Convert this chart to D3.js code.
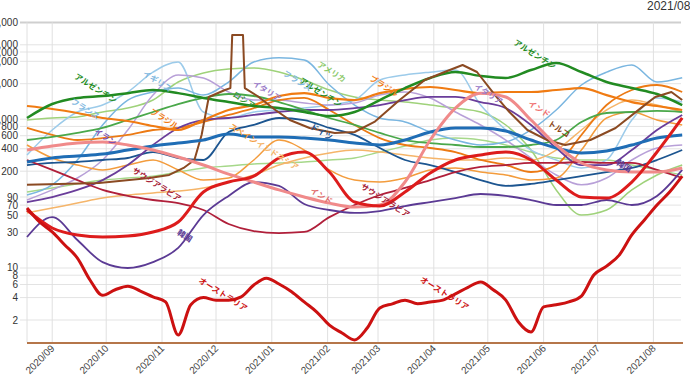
<!DOCTYPE html>
<html lang="ja">
<head>
<meta charset="utf-8">
<title>新規感染者数の推移</title>
<script src="https://cdn.jsdelivr.net/npm/d3@7"></script>
<style>
  body { margin: 0; background: #fff; }
  text { font-family: "Liberation Sans", Arial, sans-serif; }
  .lbl { font-family: "Noto Sans CJK JP", sans-serif; font-weight: bold; font-size: 8px; }
</style>
</head>
<body>
<div id="chart"></div>
<script>
var W = 690, H = 388;

// shared date grids (categories)
var start = new Date(2020, 7, 18), end = new Date(2021, 7, 17);
var dates14 = d3.timeDay.range(start, new Date(2021, 7, 18), 14);   // 27 points
var dates7 = d3.timeDay.range(start, new Date(2021, 7, 18), 7);     // 53 points

var yTicks = [2, 4, 6, 8, 10, 30, 50, 70, 90, 200, 400, 600, 800, 1000, 3000, 6000, 8000, 10000, 20000];

// series values
var australia = [64, 41.5, 30.5, 20.4, 13.6, 6.9, 4.3, 5.1, 5.7, 4.9, 4.1, 3.5, 1.26, 3.2, 4.0, 3.7, 3.7, 4.1, 5.9, 7.3, 6.1, 4.8, 3.5, 2.56, 1.71, 1.34, 1.08, 1.56, 2.9, 3.3, 3.7, 3.3, 3.5, 3.7, 4.5, 5.5, 6.5, 5.1, 3.7, 1.88, 1.38, 3.0, 3.2, 3.5, 4.2, 8.1, 10.6, 14.9, 27.8, 44.2, 70.3, 105, 172];
var japan = [60.2, 34.5, 27.8, 26.1, 26.9, 30.5, 41.5, 105, 143, 172, 301, 362, 195, 77, 68, 105, 189, 283, 330, 362, 283, 152, 90, 87, 143, 362, 1038];
var korea = [26.1, 48.3, 23.8, 12.0, 10, 12.0, 18.6, 51.5, 93, 143, 127, 72.4, 60.2, 54.9, 58.3, 68, 77, 87, 98.8, 93, 82, 70.3, 70.3, 82, 70.3, 93, 208];
var saudi = [283, 208, 152, 112, 93, 82, 74.5, 60.2, 39, 31.4, 29.5, 30.5, 48.3, 70.3, 95.7, 119, 152, 195, 228, 242, 258, 258, 266, 258, 258, 208, 162];
var india = [385, 436, 478, 493, 450, 385, 310, 242, 183, 143, 112, 90, 74.5, 66, 70.3, 143, 525, 1410, 2240, 1990, 975, 450, 258, 208, 195, 195, 221];
var spain = [266, 301, 320, 340, 385, 436, 478, 525, 632, 577, 577, 558, 525, 478, 450, 525, 673, 762, 762, 694, 525, 410, 351, 374, 450, 558, 614];
var brazil = [1504, 1371, 1211, 1038, 946, 810, 716, 975, 1330, 1550, 2050, 2240, 1930, 1810, 2240, 2550, 2710, 2470, 2240, 2320, 2320, 2470, 2620, 2110, 1700, 1504, 1330];
var france = [330, 716, 1250, 1550, 2320, 4290, 5870, 1250, 1038, 1250, 1330, 1410, 1550, 1810, 3360, 3930, 4290, 4580, 1550, 716, 385, 283, 221, 283, 975, 1930, 1700];
var uk = [95.7, 131, 283, 836, 1810, 2320, 2620, 2110, 3160, 5870, 6680, 6250, 2880, 1550, 1038, 919, 673, 525, 450, 493, 716, 1330, 2880, 4290, 5350, 3160, 3600];
var usa = [975, 1038, 1071, 1250, 1410, 1810, 3160, 4180, 4730, 4880, 4310, 3360, 2470, 1990, 1810, 1700, 1550, 1410, 1250, 836, 385, 112, 51.5, 60.2, 112, 178, 242];
var russia = [525, 577, 653, 762, 975, 1250, 1600, 1930, 2180, 2050, 1700, 1330, 1038, 836, 653, 525, 478, 450, 423, 423, 450, 525, 919, 1211, 1250, 1290, 1250];
var argentina = [1038, 1600, 1930, 2050, 2240, 2470, 2240, 1930, 1700, 1504, 1410, 1250, 1104, 1250, 1810, 2620, 3580, 4310, 3810, 3580, 4580, 5690, 4310, 3160, 2620, 2180, 1550];
var iran = [77, 90, 112, 152, 242, 450, 762, 975, 1038, 1140, 1250, 1330, 1330, 1410, 1550, 1810, 1990, 1990, 1700, 1410, 836, 410, 242, 242, 385, 716, 1140];
var italy = [82, 112, 162, 283, 716, 2110, 3930, 3580, 2320, 1810, 1810, 1650, 1550, 1650, 2110, 2320, 1930, 1250, 836, 525, 301, 178, 131, 162, 283, 410, 450];
var indonesia = [54.9, 64, 74.5, 87, 95.7, 102, 108, 119, 143, 178, 242, 301, 351, 385, 362, 330, 301, 283, 283, 301, 283, 385, 716, 1330, 1810, 1550, 1250];
var spainOr = [450, 301, 242, 208, 242, 283, 208, 152, 162, 283, 525, 385, 208, 152, 143, 162, 208, 221, 195, 178, 152, 162, 385, 1038, 1250, 975, 836];
var mexico = [762, 614, 525, 558, 614, 716, 762, 919, 1140, 1410, 1810, 1930, 1330, 836, 558, 450, 410, 362, 283, 242, 195, 242, 614, 1550, 2470, 2880, 2320];
var germany = [242, 258, 266, 283, 301, 362, 301, 283, 673, 836, 1038, 975, 762, 614, 410, 283, 242, 195, 152, 127, 135, 152, 172, 195, 221, 283, 385];
var peru = [105, 119, 135, 152, 162, 172, 195, 221, 235, 250, 258, 266, 283, 301, 362, 436, 525, 558, 525, 450, 362, 301, 283, 283, 242, 208, 178];

var turkeyDates = ["2020-08-18", "2020-09-05", "2020-09-27", "2020-10-25", "2020-11-05", "2020-11-13", "2020-11-19", "2020-11-23", "2020-11-27", "2020-12-06", "2020-12-09", "2020-12-10", "2020-12-16", "2020-12-17", "2020-12-24", "2021-01-03", "2021-01-11", "2021-01-22", "2021-02-05", "2021-02-16", "2021-02-27", "2021-03-13", "2021-03-27", "2021-04-07", "2021-04-17", "2021-04-25", "2021-05-05", "2021-05-13", "2021-05-23", "2021-06-03", "2021-06-13", "2021-06-27", "2021-07-11", "2021-07-25", "2021-08-02", "2021-08-11", "2021-08-17"];
var turkey = [131, 135, 139, 162, 178, 221, 283, 614, 1990, 2470, 2620, 13500, 13500, 2620, 2050, 1330, 975, 762, 653, 673, 919, 1810, 3360, 4310, 5350, 4310, 2110, 1250, 716, 525, 450, 525, 762, 1410, 1990, 2320, 1810];

// on-chart name labels: text, date, value, colour
var labels = [
  ["アルゼンチン", "2020-09-13", 4310, "#228b22"],
  ["アルゼンチン", "2021-05-15", 12340, "#228b22"],
  ["アルゼンチン", "2021-01-16", 3810, "#228b22"],
  ["アメリカ", "2021-01-26", 6250, "#8cc96a"],
  ["フランス", "2020-09-11", 1990, "#7fb8e0"],
  ["イギリス", "2020-10-21", 4730, "#7fb8e0"],
  ["ブラジル", "2020-10-25", 1460, "#f07b12"],
  ["ブラジル", "2021-02-24", 4050, "#f07b12"],
  ["イラン", "2020-09-24", 786, "#7b4fb0"],
  ["ロシア", "2020-12-10", 2470, "#3a9a3a"],
  ["イタリア", "2020-12-21", 3470, "#9a7cc8"],
  ["イタリア", "2021-04-23", 3160, "#9a7cc8"],
  ["フランス", "2021-01-07", 4730, "#7fb8e0"],
  ["スペイン", "2020-12-08", 919, "#f39c3d"],
  ["ドイツ", "2021-01-22", 919, "#1c4f8a"],
  ["インドネシア", "2020-12-23", 542, "#f5b56a"],
  ["インド", "2021-05-23", 1869, "#f07070"],
  ["インド", "2021-01-22", 127, "#e06a6a"],
  ["トルコ", "2021-06-03", 1006, "#8b4513"],
  ["韓国", "2020-11-09", 34.5, "#5b3a94"],
  ["韓国", "2021-07-11", 301, "#5b3a94"],
  ["サウジアラビア", "2020-10-15", 235, "#a8243a"],
  ["サウジアラビア", "2021-02-19", 143, "#a8243a"],
  ["オーストラリア", "2020-11-21", 7.8, "#cc1111"],
  ["オーストラリア", "2021-03-24", 8.05, "#cc1111"]
];

var parse = d3.timeParse("%Y-%m-%d");

var x = d3.scaleTime().domain([start, end]).range([27, 682.2]);
var y = d3.scaleLog().domain([1, 20000]).range([342.4, 22.4]);

var svg = d3.select("#chart").append("svg").attr("width", W).attr("height", H);

// grid
svg.append("g").selectAll("line").data(yTicks).join("line")
  .attr("x1", 20).attr("x2", 681)
  .attr("y1", function (d) { return y(d); }).attr("y2", function (d) { return y(d); })
  .attr("stroke", function (d) { return d === 20000 ? "#cfcfcf" : "#e3e3e3"; })
  .attr("stroke-width", function (d) { return d === 20000 ? 2 : 1; });

var months = d3.timeMonth.range(new Date(2020, 8, 1), new Date(2021, 7, 2));
svg.append("g").selectAll("line").data([start].concat(months)).join("line")
  .attr("x1", function (d) { return x(d); }).attr("x2", function (d) { return x(d); })
  .attr("y1", y(20000)).attr("y2", y(1))
  .attr("stroke", "#e0e0e0");

// y labels
svg.append("g").selectAll("text").data(yTicks).join("text")
  .attr("x", 18).attr("y", function (d) { return y(d) + 3.5; })
  .attr("text-anchor", "end").attr("font-size", 10).attr("fill", "#333")
  .text(d3.format(","));

// x labels
var fmt = d3.timeFormat("%Y/%m");
svg.append("g").selectAll("text").data(months).join("text")
  .attr("transform", function (d) { return "translate(" + (x(d) + 3) + ",349) rotate(-45)"; })
  .attr("text-anchor", "end").attr("font-size", 10).attr("fill", "#444")
  .text(fmt);

// title (clipped at right edge)
svg.append("text").attr("x", 647).attr("y", 10).attr("font-size", 12).attr("fill", "#333").text("2021/08/17");

var series = [
  { v: peru, d: dates14, c: "#a6d88a", w: 1.4 },
  { v: usa, d: dates14, c: "#9fd27a", w: 1.5 },
  { v: france, d: dates14, c: "#9ccbea", w: 1.5 },
  { v: uk, d: dates14, c: "#7ab6e0", w: 1.5 },
  { v: italy, d: dates14, c: "#b8a0d8", w: 1.5 },
  { v: indonesia, d: dates14, c: "#f5b56a", w: 1.5 },
  { v: spainOr, d: dates14, c: "#f39c3d", w: 1.5 },
  { v: mexico, d: dates14, c: "#ec7a14", w: 1.8 },
  { v: germany, d: dates14, c: "#1c5590", w: 1.8 },
  { v: iran, d: dates14, c: "#6a3d9a", w: 1.8 },
  { v: russia, d: dates14, c: "#4aa84a", w: 1.8 },
  { v: saudi, d: dates14, c: "#b01f3a", w: 1.8 },
  { v: korea, d: dates14, c: "#5b3a94", w: 1.8 },
  { v: brazil, d: dates14, c: "#f07b12", w: 2.2 },
  { v: argentina, d: dates14, c: "#228b22", w: 2.5 },
  { v: turkey, d: turkeyDates.map(parse), c: "#8b4a22", w: 2, lin: true },
  { v: spain, d: dates14, c: "#1f6db5", w: 3 },
  { v: india, d: dates14, c: "#f08a8a", w: 3 },
  { v: japan, d: dates14, c: "#dd1c1c", w: 3 },
  { v: australia, d: dates7, c: "#cc1111", w: 3 }
];

var lineGen = d3.line()
  .x(function (p) { return x(p[0]); })
  .y(function (p) { return y(p[1]); });

svg.append("g").selectAll("path").data(series).join("path")
  .attr("fill", "none")
  .attr("stroke", function (s) { return s.c; })
  .attr("stroke-width", function (s) { return s.w; })
  .attr("stroke-linejoin", "round")
  .attr("d", function (s) {
    lineGen.curve(s.lin ? d3.curveLinear : d3.curveMonotoneX);
    return lineGen(d3.zip(s.d, s.v));
  });

// bottom axis line
svg.append("line").attr("x1", 27).attr("x2", 683).attr("y1", 343).attr("y2", 343)
  .attr("stroke", "#b5764a").attr("stroke-width", 2);

// name labels
svg.append("g").selectAll("text").data(labels).join("text")
  .attr("class", "lbl")
  .attr("fill", function (l) { return l[3]; })
  .attr("transform", function (l) { return "translate(" + x(parse(l[1])) + "," + (y(l[2]) + 6) + ") rotate(32)"; })
  .text(function (l) { return l[0]; });
</script>
</body>
</html>
